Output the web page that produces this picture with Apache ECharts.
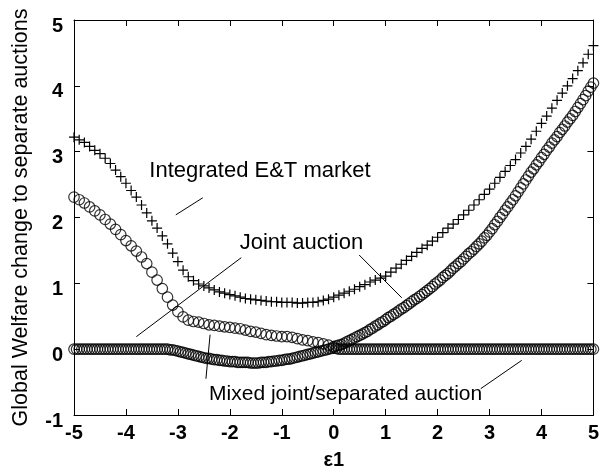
<!DOCTYPE html>
<html>
<head>
<meta charset="utf-8">
<script src="https://cdn.jsdelivr.net/npm/echarts@6/dist/echarts.min.js"></script>
<style>
  html, body { margin: 0; padding: 0; background: #fff; }
  #chart { width: 602px; height: 475px; }
</style>
</head>
<body>
<div id="chart"></div>
<script>
// Integrated E&T market, sampled at ε1 = -5.0 ... 5.0 (step 0.1)
const integratedY = [
  3.22, 3.18, 3.14, 3.08, 3.02, 2.97, 2.90, 2.82, 2.72, 2.62,
  2.52, 2.41, 2.31, 2.19, 2.07, 1.95, 1.84, 1.72, 1.60, 1.46,
  1.33, 1.20, 1.10, 1.04, 0.99, 0.96, 0.93, 0.90, 0.87, 0.85,
  0.83, 0.81, 0.79, 0.77, 0.76, 0.75, 0.74, 0.73, 0.72, 0.72,
  0.71, 0.71, 0.71, 0.70, 0.70, 0.71, 0.71, 0.72, 0.74, 0.76,
  0.79, 0.82, 0.85, 0.88, 0.91, 0.95, 0.98, 1.02, 1.05, 1.08,
  1.11, 1.17, 1.23, 1.29, 1.35, 1.41, 1.47, 1.53, 1.58, 1.64,
  1.70, 1.77, 1.84, 1.90, 1.97, 2.04, 2.11, 2.19, 2.27, 2.35,
  2.43, 2.52, 2.61, 2.70, 2.79, 2.88, 2.98, 3.08, 3.19, 3.31,
  3.43, 3.54, 3.66, 3.78, 3.89, 4.00, 4.11, 4.23, 4.35, 4.48,
  4.61
];

// Joint auction, ε1 = -5.0 ... -0.1 (step 0.1)
const jointLeftY = [
  2.31, 2.27, 2.22, 2.16, 2.10, 2.04, 1.97, 1.90, 1.82, 1.74,
  1.65, 1.57, 1.49, 1.40, 1.30, 1.17, 1.05, 0.92, 0.79, 0.67,
  0.57, 0.49, 0.44, 0.42, 0.41, 0.39, 0.37, 0.36, 0.35, 0.34,
  0.33, 0.32, 0.31, 0.29, 0.27, 0.26, 0.24, 0.22, 0.21, 0.20,
  0.19, 0.19, 0.18, 0.16, 0.14, 0.13, 0.11, 0.10, 0.08, 0.06
];

// Joint auction, ε1 = 0.00 ... 5.00 (step 0.05)
const jointRightY = [
  0.04, 0.05, 0.06, 0.07, 0.09, 0.11, 0.13, 0.15, 0.17, 0.19,
  0.21, 0.23, 0.25, 0.27, 0.30, 0.32, 0.35, 0.37, 0.40, 0.42,
  0.45, 0.48, 0.50, 0.53, 0.55, 0.58, 0.61, 0.63, 0.66, 0.69,
  0.72, 0.75, 0.77, 0.80, 0.83, 0.86, 0.89, 0.92, 0.95, 0.99,
  1.02, 1.05, 1.09, 1.12, 1.15, 1.19, 1.23, 1.26, 1.30, 1.33,
  1.37, 1.41, 1.45, 1.48, 1.52, 1.56, 1.60, 1.64, 1.69, 1.73,
  1.78, 1.83, 1.89, 1.94, 2.00, 2.05, 2.11, 2.16, 2.22, 2.27,
  2.33, 2.39, 2.45, 2.51, 2.57, 2.63, 2.69, 2.74, 2.80, 2.85,
  2.91, 2.96, 3.02, 3.07, 3.13, 3.18, 3.23, 3.29, 3.34, 3.39,
  3.45, 3.50, 3.55, 3.61, 3.67, 3.73, 3.79, 3.85, 3.92, 3.98,
  4.04
];

// Mixed joint/separated auction, ε1 = -5.00 ... 5.00 (step 0.05)
const mixedY = [
  0, 0, 0, 0, 0, 0, 0, 0, 0, 0, 0, 0, 0, 0, 0, 0, 0, 0, 0, 0,
  0, 0, 0, 0, 0, 0, 0, 0, 0, 0, 0, 0, 0, 0, 0, 0, 0,
  -0.01, -0.01, -0.02, -0.03, -0.04, -0.05, -0.06, -0.07, -0.08, -0.09,
  -0.10, -0.11, -0.12, -0.13, -0.14, -0.14, -0.15, -0.16, -0.16, -0.17,
  -0.17, -0.18, -0.18, -0.19, -0.19, -0.19, -0.20, -0.20, -0.20, -0.20,
  -0.20, -0.21, -0.21, -0.21, -0.21, -0.20, -0.20, -0.20, -0.19, -0.19,
  -0.18, -0.18, -0.17, -0.17, -0.16, -0.15, -0.15, -0.14, -0.13, -0.12,
  -0.11, -0.10, -0.09, -0.08, -0.07, -0.06, -0.05, -0.04, -0.03, -0.02,
  -0.01, 0.00, 0.01, 0.02, 0.01,
  0, 0, 0, 0, 0, 0, 0, 0, 0, 0, 0, 0, 0, 0, 0, 0, 0, 0, 0, 0,
  0, 0, 0, 0, 0, 0, 0, 0, 0, 0, 0, 0, 0, 0, 0, 0, 0, 0, 0, 0,
  0, 0, 0, 0, 0, 0, 0, 0, 0, 0, 0, 0, 0, 0, 0, 0, 0, 0, 0, 0,
  0, 0, 0, 0, 0, 0, 0, 0, 0, 0, 0, 0, 0, 0, 0, 0, 0, 0, 0, 0,
  0, 0, 0, 0, 0, 0, 0, 0, 0, 0, 0, 0, 0, 0, 0, 0, 0, 0, 0
];

// Axis ranges and ticks
const xTicks = [-5, -4, -3, -2, -1, 0, 1, 2, 3, 4, 5];
const yTicks = [-1, 0, 1, 2, 3, 4, 5];

// Annotation texts and their pointer lines (data coordinates)
const annotations = [
  { text: 'Integrated E&T market', at: [-3.55, 2.71], size: 22 },
  { text: 'Joint auction', at: [-1.81, 1.62], size: 22 },
  { text: 'Mixed joint/separated auction', at: [-2.40, -0.68], size: 21 }
];
const pointers = [
  [[-3.04, 2.04], [-2.52, 2.30]],
  [[-1.78, 1.39], [-3.80, 0.19]],
  [[0.49, 1.43], [1.31, 0.78]],
  [[-2.38, 0.22], [-2.46, -0.45]],
  [[3.62, -0.17], [2.83, -0.60]]
];

const FONT = 'Liberation Sans, Arial, sans-serif';

function pairs(start, step, ys) {
  return ys.map((y, i) => [+(start + i * step).toFixed(2), y]);
}

const integratedData = pairs(-5, 0.1, integratedY);
const jointData = pairs(-5, 0.1, jointLeftY).concat(pairs(0, 0.05, jointRightY));
const mixedData = pairs(-5, 0.05, mixedY);

const chart = echarts.init(document.getElementById('chart'), null, { renderer: 'canvas' });

const axisCommon = {
  axisLine: { show: true, onZero: false, lineStyle: { color: '#000', width: 1 } },
  axisTick: { show: true, inside: true, length: 6, lineStyle: { color: '#000', width: 1 } },
  splitLine: { show: false }
};

const circleStyle = { color: 'rgba(0,0,0,0)', borderColor: '#000', borderWidth: 1.2 };

const tickText = { color: '#000', fontSize: 20, fontWeight: 'bold', fontFamily: FONT };

chart.setOption({
  animation: false,
  backgroundColor: '#fff',
  grid: { left: 74, right: 3, top: 13, bottom: 50, containLabel: false },
  xAxis: [
    Object.assign({
      type: 'value', position: 'bottom',
      min: xTicks[0], max: xTicks[xTicks.length - 1], interval: 1,
      name: 'ε1', nameLocation: 'middle', nameGap: 35,
      nameTextStyle: { color: '#000', fontSize: 20, fontWeight: 'bold', fontFamily: FONT },
      axisLabel: Object.assign({ margin: 8 }, tickText)
    }, axisCommon),
    Object.assign({
      type: 'value', position: 'top',
      min: xTicks[0], max: xTicks[xTicks.length - 1], interval: 1,
      axisLabel: { show: false }
    }, axisCommon)
  ],
  yAxis: [
    Object.assign({
      type: 'value', position: 'left',
      min: yTicks[0], max: yTicks[yTicks.length - 1], interval: 1,
      name: 'Global Welfare change to separate auctions',
      nameLocation: 'middle', nameGap: 42, nameRotate: 90,
      nameTextStyle: { color: '#000', fontSize: 21.5, fontFamily: FONT },
      axisLabel: Object.assign({
        margin: 11,
        // an empty spacer line above each value drops the number a little below its tick
        formatter: v => '{gap|}\n{num|' + v + '}',
        rich: {
          gap: { height: 12, lineHeight: 12 },
          num: Object.assign({ lineHeight: 20 }, tickText)
        }
      }, tickText)
    }, axisCommon),
    Object.assign({
      type: 'value', position: 'right',
      min: yTicks[0], max: yTicks[yTicks.length - 1], interval: 1,
      axisLabel: { show: false }
    }, axisCommon)
  ],
  series: [
    {
      name: 'Integrated E&T market',
      type: 'scatter',
      data: integratedData,
      symbol: 'path://M0,5L10,5M5,0L5,10',
      symbolSize: 10,
      itemStyle: { color: 'rgba(0,0,0,0)', borderColor: '#000', borderWidth: 1.2, opacity: 1 },
      silent: true,
      markPoint: {
        silent: true,
        symbol: 'circle',
        symbolSize: 0,
        data: annotations.map(a => ({
          name: a.text,
          coord: a.at,
          label: {
            show: true, position: 'right', distance: 0, formatter: '{b}',
            color: '#000', fontSize: a.size, fontFamily: FONT
          }
        }))
      },
      markLine: {
        silent: true,
        symbol: ['none', 'none'],
        label: { show: false },
        lineStyle: { color: '#000', width: 1, type: 'solid' },
        data: pointers.map(p => [{ coord: p[0] }, { coord: p[1] }])
      }
    },
    {
      name: 'Joint auction',
      type: 'scatter',
      data: jointData,
      symbol: 'circle',
      symbolSize: 10.5,
      itemStyle: circleStyle,
      silent: true
    },
    {
      name: 'Mixed joint/separated auction',
      type: 'scatter',
      data: mixedData,
      symbol: 'circle',
      symbolSize: 10.5,
      itemStyle: circleStyle,
      silent: true
    }
  ]
});
</script>
</body>
</html>
